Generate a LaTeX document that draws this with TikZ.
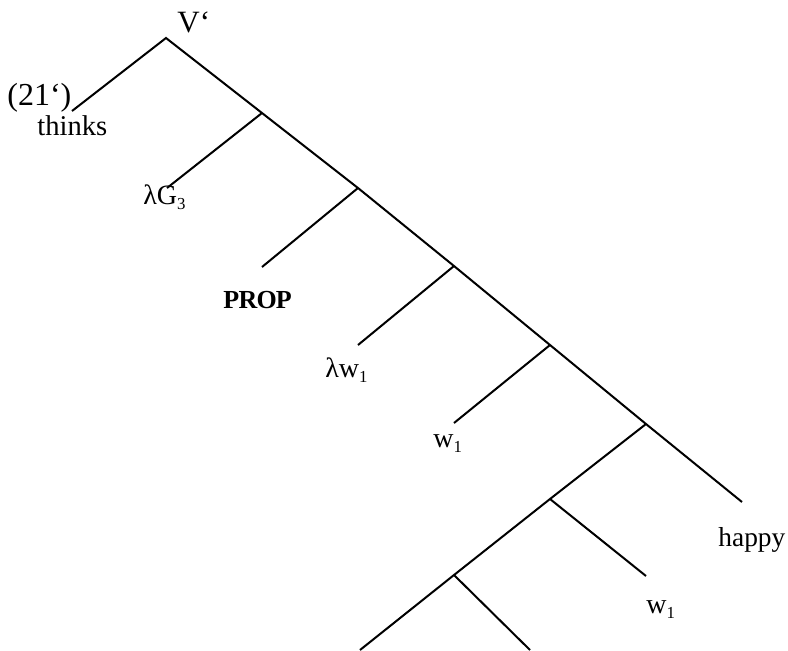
\documentclass[tikz,border=0pt]{standalone}
\usepackage{fontspec}
\usepackage{graphicx}
\setmainfont{Liberation Serif}
\newcommand{\dsub}[1]{\raisebox{-0.45ex}{\scalebox{0.6}{#1}}}
\begin{document}
\begin{tikzpicture}[x=0.5pt,y=-0.5pt,
  edge/.style={line width=1pt, line join=miter},
  lbl/.style={inner sep=0pt, anchor=base west, font=\fontsize{14}{16}\selectfont}]
\useasboundingbox (0,0) rectangle (788,650);
% tree points
\coordinate (n0) at (166,38);
\coordinate (thk) at (72,111);
\coordinate (n1) at (262,113);
\coordinate (g3) at (167,188);
\coordinate (n2) at (358,188);
\coordinate (prp) at (262,267);
\coordinate (n3) at (454,266);
\coordinate (lw) at (358,345);
\coordinate (n4) at (550,345);
\coordinate (w1a) at (454,423);
\coordinate (n5) at (646,424);
\coordinate (hap) at (742,502);
\coordinate (n6) at (550,499);
\coordinate (w1b) at (646,576);
\coordinate (n7) at (454,575);
\coordinate (ll) at (360,650);
\coordinate (lr) at (530,650);
% edges
\draw[edge] (thk) -- (n0) -- (n1) -- (n2) -- (n3) -- (n4) -- (n5) -- (hap);
\draw[edge] (n1) -- (g3);
\draw[edge] (n2) -- (prp);
\draw[edge] (n3) -- (lw);
\draw[edge] (n4) -- (w1a);
\draw[edge] (n5) -- (n6) -- (n7) -- (ll);
\draw[edge] (n6) -- (w1b);
\draw[edge] (n7) -- (lr);
% labels
\node[lbl, font=\fontsize{15.5}{18}\selectfont] (lv) at (177,32) {V‘};
\node[lbl, font=\fontsize{16}{18}\selectfont] (lnum) at (7,105) {(21‘)};
\node[lbl, font=\fontsize{14.3}{16}\selectfont] (lthinks) at (37,135) {thinks};
\node[lbl] (lg) at (143,204) {λG\dsub{3}};
\node[lbl, font=\fontsize{13}{16}\selectfont\bfseries\addfontfeature{LetterSpace=-3}] (lprop) at (223,308) {PROP};
\node[lbl, font=\fontsize{14}{16}\selectfont] (llw) at (325,377) {λw\dsub{1}};
\node[lbl, font=\fontsize{14}{16}\selectfont] (lw1a) at (433,447) {w\dsub{1}};
\node[lbl, font=\fontsize{13.7}{16}\selectfont] (lhappy) at (718,546) {happy};
\node[lbl, font=\fontsize{14}{16}\selectfont] (lw1b) at (646,613) {w\dsub{1}};
\end{tikzpicture}
\end{document}
